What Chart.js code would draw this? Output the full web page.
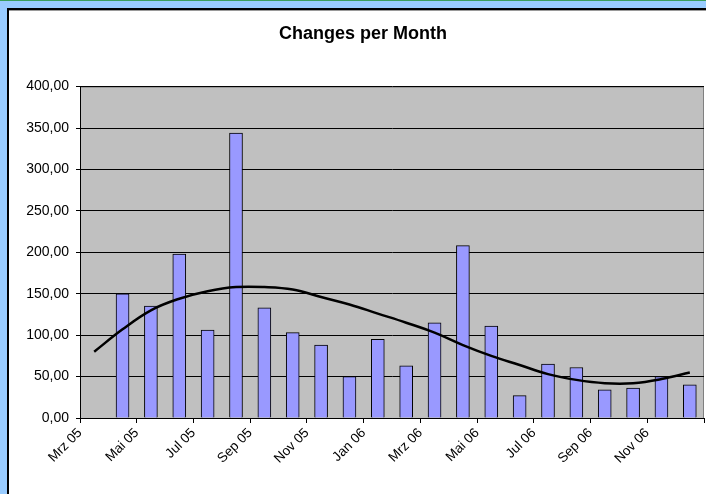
<!DOCTYPE html>
<html>
<head>
<meta charset="utf-8">
<script src="https://cdn.jsdelivr.net/npm/chart.js@4"></script>
<style>
    html { margin: 0; padding: 0; overflow: hidden; background: #99ccff; }
    body { margin: 0; padding: 0; }
    #topline { position: fixed; left: 0; top: 0; width: 760px; height: 1px; background: #3a9e5c; }
    #frame {
        position: fixed; left: 7px; top: 8px; width: 760px; height: 520px;
        background: #fff; border-top: 2px solid #000; border-left: 2px solid #000;
        box-shadow: inset 0 1px 0 #9a9a9a;
    }
    #chart { position: fixed; left: 8px; top: 9px; }
</style>
</head>
<body>
<div id="topline"></div>
<div id="frame"></div>
<canvas id="chart" width="710" height="485"></canvas>
<script>
async function main() {
    const chartCanvas = document.querySelector("#chart");

    // monthly values, Mrz 05 .. Dez 06
    const months = ["Mrz 05", "Apr 05", "Mai 05", "Jun 05", "Jul 05", "Aug 05", "Sep 05", "Okt 05",
        "Nov 05", "Dez 05", "Jan 06", "Feb 06", "Mrz 06", "Apr 06", "Mai 06", "Jun 06",
        "Jul 06", "Aug 06", "Sep 06", "Okt 06", "Nov 06", "Dez 06"];
    const changes = [0, 150, 135, 198, 106, 344, 133, 103, 88, 50, 95, 63,
        115, 208, 111, 27, 65, 61, 34, 36, 50, 40];
    const trend = [80, 107, 130, 144, 153, 158, 158, 155, 146, 137, 126, 115,
        103, 88, 75, 64, 53, 46, 42, 42, 47, 55];
    const tickLabels = ["Mrz 05", "Mai 05", "Jul 05", "Sep 05", "Nov 05", "Jan 06",
        "Mrz 06", "Mai 06", "Jul 06", "Sep 06", "Nov 06", ""];

    const font = { family: "'Liberation Sans', Arial, sans-serif", size: 14 };

    // gray plot area
    const plotBg = {
        id: "plotBg",
        beforeDraw(chart) {
            const { ctx, chartArea: a } = chart;
            ctx.save();
            ctx.fillStyle = "#c0c0c0";
            ctx.fillRect(a.left, a.top, a.right - a.left, a.bottom - a.top);
            ctx.strokeStyle = "#808080";
            ctx.lineWidth = 1;
            ctx.strokeRect(a.left + 0.5, a.top + 0.5, a.right - a.left - 1, a.bottom - a.top);
            ctx.restore();
        },
    };

    const data = {
        datasets: [
            {
                type: "line",
                label: "Trend",
                data: trend.map((v, i) => ({ x: i + 0.5, y: v })),
                borderColor: "#000",
                borderWidth: 2.5,
                pointRadius: 0,
                tension: 0.4,
                order: 0,
            },
            {
                type: "bar",
                label: "Changes",
                data: changes.map((v, i) => ({ x: i + 0.5, y: v })),
                backgroundColor: "#9999ff",
                borderColor: "#000",
                borderWidth: 1,
                borderSkipped: "start",
                barThickness: 13,
                order: 1,
            },
        ],
    };

    const config = {
        data: data,
        plugins: [plotBg],
        options: {
            responsive: false,
            animation: false,
            layout: { padding: { left: 14, right: 14, top: 0, bottom: 0 } },
            plugins: {
                legend: { display: false },
                tooltip: { enabled: false },
                title: {
                    display: true,
                    text: "Changes per Month",
                    color: "#000",
                    font: { family: font.family, size: 18, weight: "bold" },
                    padding: { top: 14, bottom: 42 },
                },
            },
            scales: {
                x: {
                    type: "linear",
                    min: 0,
                    max: 22,
                    offset: false,
                    afterFit: (s) => { s.height = 76; },
                    afterBuildTicks: (s) => {
                        s.ticks = tickLabels.map((l, i) => ({ value: i * 2 }));
                    },
                    ticks: {
                        autoSkip: false,
                        minRotation: 45,
                        maxRotation: 45,
                        color: "#000",
                        font: { family: font.family, size: 13.5 },
                        padding: 2,
                        callback: (v) => tickLabels[Math.round(v / 2)],
                    },
                    grid: { offset: false, drawOnChartArea: false, color: "#000", tickLength: 5 },
                    border: { display: true, color: "#000", width: 1 },
                },
                y: {
                    min: 0,
                    max: 400,
                    afterFit: (s) => { s.width = 58; },
                    ticks: {
                        stepSize: 50,
                        color: "#000",
                        font: font,
                        padding: 7,
                        callback: (v) => v.toFixed(2).replace(".", ","),
                    },
                    grid: { color: "#000", tickLength: 4 },
                    border: { display: true, color: "#000", width: 1 },
                },
            },
        },
    };
    const myChart = new Chart(chartCanvas, config);
}

main();
</script>
</body>
</html>
